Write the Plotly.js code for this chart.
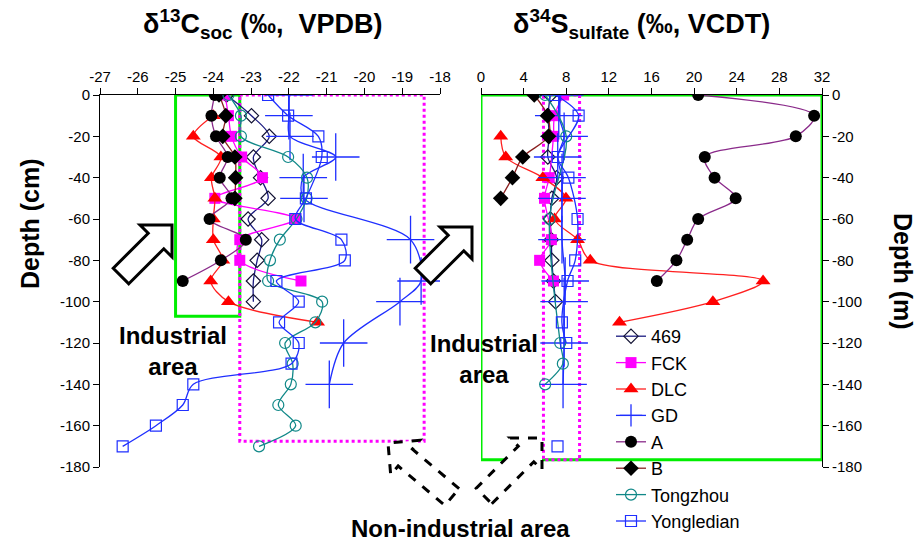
<!DOCTYPE html>
<html>
<head>
<meta charset="utf-8">
<script src="https://cdn.plot.ly/plotly-3.0.1.min.js"></script>
<style>html,body{margin:0;padding:0;background:#fff}#chart{width:920px;height:545px}</style>
</head>
<body>
<div id="chart"></div>
<script>
// ---------- Data: left panel, δ13C_soc (‰ VPDB) vs depth (cm) ----------
const L469_depth = [0, -10, -20, -30, -40, -50, -60, -70, -80, -90, -100];
const L469_val   = [-23.65, -22.99, -22.52, -22.94, -22.75, -22.55, -23.08, -22.72, -22.84, -22.94, -22.94];
const LFCK_depth = [0, -10, -20, -30, -40, -50, -60, -70, -80, -90];
const LFCK_val   = [-23.69, -23.6, -23.52, -23.25, -22.7, -23.96, -21.82, -23.3, -23.3, -21.68];
const LDLC_depth = [-10, -20, -30, -40, -50, -60, -70, -80, -90, -100, -110];
const LDLC_val   = [-24.0, -24.53, -23.8, -24.05, -23.96, -24.0, -24.0, -23.75, -24.07, -23.6, -21.24];
const LGD_depth  = [0, -10, -20, -30, -40, -50, -70, -90, -100, -120, -140];
const LGD_val    = [-22.0, -22.0, -21.97, -20.76, -21.62, -21.6, -18.78, -18.5, -19.06, -20.55, -20.93];
const LA_depth   = [0, -10, -20, -30, -40, -50, -60, -70, -80, -90];
const LA_val     = [-23.96, -24.05, -23.93, -23.62, -23.83, -23.52, -24.1, -23.14, -23.8, -24.81];
const LB_depth   = [0, -10, -20, -30, -40, -50];
const LB_val     = [-23.85, -23.67, -23.75, -23.43, -23.41, -23.43];
const LTZ_depth  = [0, -10, -20, -30, -40, -50, -60, -70, -80, -90, -100, -110, -120, -130, -140, -150, -160, -170];
const LTZ_val    = [-23.6, -23.27, -23.27, -22.02, -21.52, -21.53, -21.8, -22.24, -22.5, -22.55, -21.12, -21.3, -22.1, -21.9, -21.95, -22.28, -21.82, -22.79];
const LYL_depth  = [0, -10, -20, -30, -50, -60, -70, -80, -90, -100, -110, -120, -130, -140, -150, -160, -170];
const LYL_val    = [-22.55, -22.02, -21.22, -21.13, -21.55, -21.83, -20.61, -20.52, -22.33, -21.74, -22.26, -21.74, -21.93, -24.53, -24.81, -25.52, -26.4];

// ---------- Data: right panel, δ34S_sulfate (‰ VCDT) vs depth (m) ----------
const R469_depth = [0, -10, -20, -30, -40, -50, -60, -70, -80, -90, -100];
const R469_val   = [6.5, 6.3, 6.4, 6.27, 7.1, 6.65, 6.5, 6.6, 6.65, 6.8, 7.0];
const RFCK_depth = [0, -10, -20, -40, -50, -70, -80, -90];
const RFCK_val   = [7.75, 6.9, 6.8, 6.4, 5.96, 6.6, 5.5, 6.8];
const RDLC_depth = [-20, -30, -40, -50, -60, -70, -80, -90, -100, -110];
const RDLC_val   = [1.85, 2.32, 5.8, 7.97, 6.9, 9.06, 10.25, 26.47, 21.76, 13.0];
const RGD_depth  = [0, -10, -20, -30, -40, -50, -70, -90, -100, -120, -140];
const RGD_val    = [7.4, 7.3, 7.8, 7.2, 7.6, 7.6, 7.6, 7.9, 7.8, 7.8, 7.7];
const RA_depth   = [0, -10, -20, -30, -40, -50, -60, -70, -80, -90];
const RA_val     = [20.38, 31.26, 29.54, 21.0, 21.92, 23.9, 20.38, 19.35, 18.34, 16.5];
const RB_depth   = [0, -10, -20, -30, -40, -50];
const RB_val     = [5.0, 6.24, 6.33, 3.92, 2.95, 1.85];
const RTZ_depth  = [0, -20, -60, -120, -130, -140];
const RTZ_val    = [6.02, 8.0, 6.43, 7.43, 7.68, 6.02];
const RYL_depth  = [0, -10, -30, -40, -60, -80, -90, -110, -120, null, -170];
const RYL_val    = [6.96, 9.16, 7.2, 8.2, 9.06, 8.84, 8.12, 7.59, 8.0, null, 7.18];

// ---------- Tick labels ----------
const c13Ticks = [-27, -26, -25, -24, -23, -22, -21, -20, -19, -18];
const c13TickText = ['-27', '-26', '-25', '-24', '-23', '-22', '-21', '-20', '-19', '-18'];
const s34Ticks = [0, 4, 8, 12, 16, 20, 24, 28, 32];
const s34TickText = ['0', '4', '8', '12', '16', '20', '24', '28', '32'];
const depthTicks = [0, -20, -40, -60, -80, -100, -120, -140, -160, -180];
const depthTickText = ['0', '-20', '-40', '-60', '-80', '-100', '-120', '-140', '-160', '-180'];

const seriesNames = ['469', 'FCK', 'DLC', 'GD', 'A', 'B', 'Tongzhou', 'Yongledian'];

// ---------- Styles ----------
const FONT = 'Liberation Sans, Arial, Helvetica, sans-serif';
const styles = {
  '469':        {line: '#1a1a80', marker: {symbol: 'diamond-open', size: 11, color: '#111133', line: {width: 1.2, color: '#111133'}}},
  'FCK':        {line: '#ff00ff', marker: {symbol: 'square', size: 11, color: '#ff00ff', line: {width: 0}}},
  'DLC':        {line: '#ff2020', marker: {symbol: 'triangle-up', size: 13, color: '#ff0000', line: {width: 0}}},
  'GD':         {line: '#1f2fff', marker: {symbol: 'cross-thin', size: 34, color: '#1f2fff', line: {width: 1.3, color: '#1f2fff'}}},
  'A':          {line: '#8a2a8a', marker: {symbol: 'circle', size: 12, color: '#000000', line: {width: 0}}},
  'B':          {line: '#8b2020', marker: {symbol: 'diamond', size: 12, color: '#000000', line: {width: 0}}},
  'Tongzhou':   {line: '#108888', marker: {symbol: 'circle-open', size: 11, color: '#108888', line: {width: 1.2, color: '#108888'}}},
  'Yongledian': {line: '#1f2fff', marker: {symbol: 'square-open', size: 11, color: '#1f2fff', line: {width: 1.2, color: '#1f2fff'}}}
};

const leftData = {
  '469': [L469_val, L469_depth], 'FCK': [LFCK_val, LFCK_depth], 'DLC': [LDLC_val, LDLC_depth],
  'GD': [LGD_val, LGD_depth], 'A': [LA_val, LA_depth], 'B': [LB_val, LB_depth],
  'Tongzhou': [LTZ_val, LTZ_depth], 'Yongledian': [LYL_val, LYL_depth]
};
const rightData = {
  '469': [R469_val, R469_depth], 'FCK': [RFCK_val, RFCK_depth], 'DLC': [RDLC_val, RDLC_depth],
  'GD': [RGD_val, RGD_depth], 'A': [RA_val, RA_depth], 'B': [RB_val, RB_depth],
  'Tongzhou': [RTZ_val, RTZ_depth], 'Yongledian': [RYL_val, RYL_depth]
};

const traces = [];
seriesNames.forEach(function (n) {
  const s = styles[n];
  traces.push({
    type: 'scatter', mode: 'lines+markers', name: n, legendgroup: n, showlegend: true,
    x: rightData[n][0], y: rightData[n][1], xaxis: 'x2', yaxis: 'y2',
    connectgaps: false,
    line: {color: s.line, width: 1.3, shape: 'spline', smoothing: 0.9},
    marker: s.marker
  });
});
seriesNames.forEach(function (n) {
  const s = styles[n];
  traces.push({
    type: 'scatter', mode: 'lines+markers', name: n, legendgroup: n, showlegend: false,
    x: leftData[n][0], y: leftData[n][1], xaxis: 'x', yaxis: 'y',
    line: {color: s.line, width: 1.3, shape: 'spline', smoothing: 0.9},
    marker: s.marker
  });
});

// ---------- Helpers for decorative block arrows (pixel -> paper) ----------
const W = 920, H = 545;
function px(x) { return x / W; }
function py(y) { return 1 - y / H; }
function arrowPath(tail, tip, sw, hw, hl) {
  const dx = tip[0] - tail[0], dy = tip[1] - tail[1];
  const L = Math.sqrt(dx * dx + dy * dy);
  const ux = dx / L, uy = dy / L, nx = -uy, ny = ux;
  const bx = tip[0] - ux * hl, by = tip[1] - uy * hl;
  const pts = [
    [tail[0] + nx * sw, tail[1] + ny * sw],
    [bx + nx * sw, by + ny * sw],
    [bx + nx * hw, by + ny * hw],
    tip,
    [bx - nx * hw, by - ny * hw],
    [bx - nx * sw, by - ny * sw],
    [tail[0] - nx * sw, tail[1] - ny * sw]
  ];
  return 'M ' + pts.map(function (p) { return px(p[0]).toFixed(5) + ' ' + py(p[1]).toFixed(5); }).join(' L ') + ' Z';
}

const axisCommon = {
  showline: true, linecolor: '#000', linewidth: 1, ticks: 'outside', ticklen: 6, tickwidth: 1, tickcolor: '#000',
  showgrid: false, zeroline: false, tickfont: {family: FONT, size: 15, color: '#000'}, fixedrange: true, automargin: false
};
const yDom = [1 - 467 / H, 1 - 95 / H];

const layout = {
  width: W, height: H,
  margin: {l: 0, r: 0, t: 0, b: 0, autoexpand: false},
  paper_bgcolor: '#fff', plot_bgcolor: 'rgba(0,0,0,0)',
  font: {family: FONT, color: '#000'},
  xaxis: Object.assign({}, axisCommon, {domain: [100 / W, 440 / W], range: [-27, -18], side: 'top', anchor: 'y',
    tickmode: 'array', tickvals: c13Ticks, ticktext: c13TickText}),
  yaxis: Object.assign({}, axisCommon, {domain: yDom, range: [-180, 0], anchor: 'x', side: 'left',
    tickmode: 'array', tickvals: depthTicks, ticktext: depthTickText}),
  xaxis2: Object.assign({}, axisCommon, {domain: [481 / W, 822 / W], range: [0, 32], side: 'top', anchor: 'y2',
    tickmode: 'array', tickvals: s34Ticks, ticktext: s34TickText}),
  yaxis2: Object.assign({}, axisCommon, {domain: yDom, range: [-180, 0], anchor: 'x2', side: 'right',
    tickmode: 'array', tickvals: depthTicks, ticktext: depthTickText}),
  showlegend: true,
  legend: {x: 611 / W, y: 1 - 318 / H, xanchor: 'left', yanchor: 'top', bgcolor: 'rgba(0,0,0,0)',
    font: {family: FONT, size: 18, color: '#000'}, tracegroupgap: 0, itemwidth: 30},
  shapes: [
    {type: 'rect', xref: 'x', yref: 'y', x0: -25, x1: -23.3, y0: 0, y1: -107, line: {color: '#00ee00', width: 3}, layer: 'below'},
    {type: 'rect', xref: 'x', yref: 'y', x0: -23.3, x1: -18.42, y0: 0, y1: -167.5, line: {color: '#ff00ff', width: 3, dash: 'dot'}, layer: 'below'},
    {type: 'rect', xref: 'x2', yref: 'y2', x0: 0, x1: 32, y0: 0, y1: -176.5, line: {color: '#00ee00', width: 3}, layer: 'below'},
    {type: 'rect', xref: 'x2', yref: 'y2', x0: 5.86, x1: 9.25, y0: 0, y1: -176.5, line: {color: '#ff00ff', width: 3, dash: 'dot'}, layer: 'below'},
    {type: 'path', xref: 'paper', yref: 'paper', path: arrowPath([121, 276], [172, 225], 11, 22.6, 22.6), line: {color: '#000', width: 3}, fillcolor: '#fff', layer: 'above'},
    {type: 'path', xref: 'paper', yref: 'paper', path: arrowPath([423, 276], [472, 227], 11, 22.6, 22.6), line: {color: '#000', width: 3}, fillcolor: '#fff', layer: 'above'},
    {type: 'path', xref: 'paper', yref: 'paper', path: arrowPath([452, 497], [388, 443], 11, 22.6, 22.6), line: {color: '#000', width: 3, dash: 'dash'}, fillcolor: '#fff', layer: 'above'},
    {type: 'path', xref: 'paper', yref: 'paper', path: arrowPath([484, 496], [542, 438], 11, 22.6, 22.6), line: {color: '#000', width: 3, dash: 'dash'}, fillcolor: '#fff', layer: 'above'}
  ],
  annotations: [
    {xref: 'paper', yref: 'paper', x: px(262), y: py(24), xanchor: 'center', yanchor: 'middle', showarrow: false,
      text: '<b>δ<sup>13</sup>C<sub>soc</sub> (‰,\u00a0\u00a0VPDB)</b>', font: {family: FONT, size: 27, color: '#000'}},
    {xref: 'paper', yref: 'paper', x: px(641), y: py(24), xanchor: 'center', yanchor: 'middle', showarrow: false,
      text: '<b>δ<sup>34</sup>S<sub>sulfate</sub> (‰, VCDT)</b>', font: {family: FONT, size: 27, color: '#000'}},
    {xref: 'paper', yref: 'paper', x: px(30), y: py(224), xanchor: 'center', yanchor: 'middle', showarrow: false, textangle: -90,
      text: '<b>Depth (cm)</b>', font: {family: FONT, size: 25, color: '#000'}},
    {xref: 'paper', yref: 'paper', x: px(903), y: py(271), xanchor: 'center', yanchor: 'middle', showarrow: false, textangle: 90,
      text: '<b>Depth (m)</b>', font: {family: FONT, size: 25, color: '#000'}},
    {xref: 'paper', yref: 'paper', x: px(173), y: py(351), xanchor: 'center', yanchor: 'middle', showarrow: false,
      text: '<b>Industrial<br>area</b>', font: {family: FONT, size: 24, color: '#000'}},
    {xref: 'paper', yref: 'paper', x: px(484), y: py(359), xanchor: 'center', yanchor: 'middle', showarrow: false,
      text: '<b>Industrial<br>area</b>', font: {family: FONT, size: 24, color: '#000'}},
    {xref: 'paper', yref: 'paper', x: px(460), y: py(528), xanchor: 'center', yanchor: 'middle', showarrow: false,
      text: '<b>Non-industrial area</b>', font: {family: FONT, size: 24, color: '#000'}}
  ]
};

Plotly.newPlot('chart', traces, layout, {staticPlot: true, displayModeBar: false});
</script>
</body>
</html>
